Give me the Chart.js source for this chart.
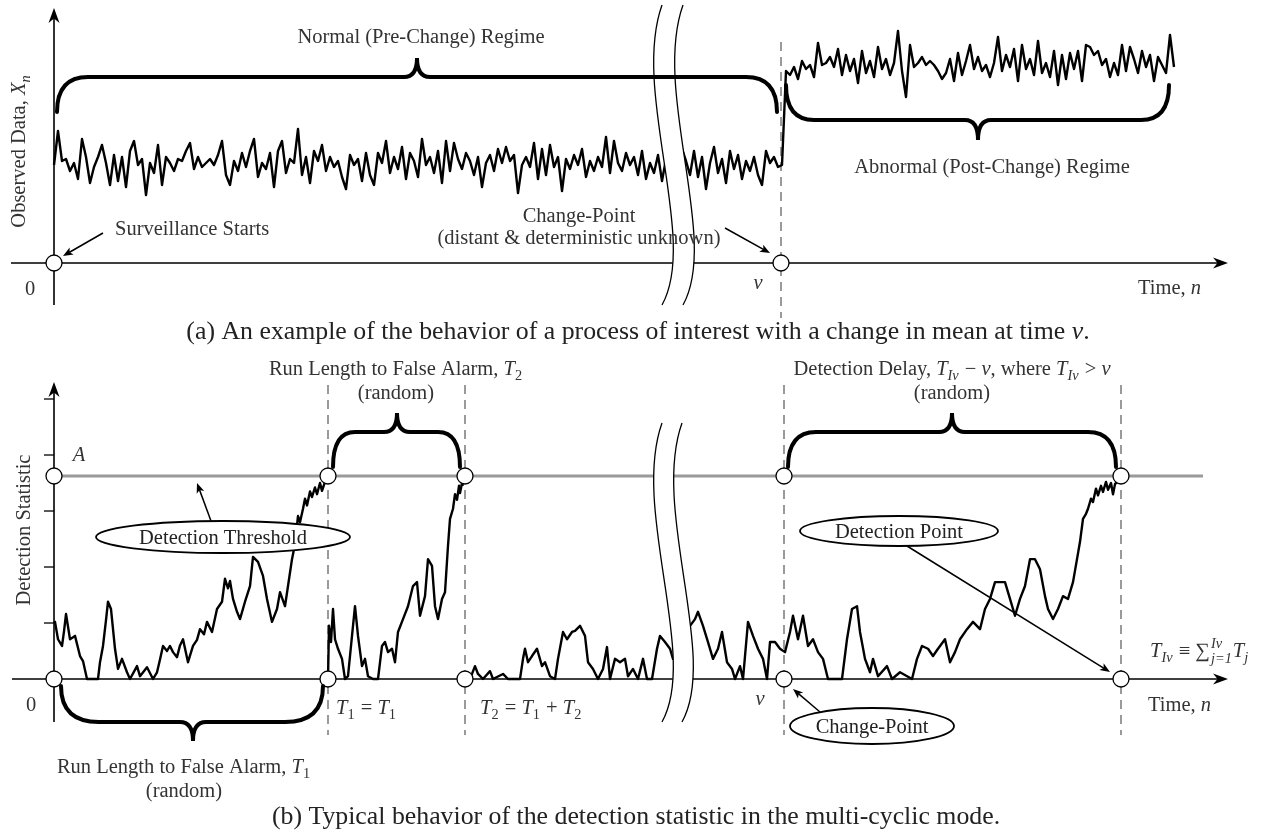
<!DOCTYPE html>
<html>
<head>
<meta charset="utf-8">
<title>Observed data and detection statistic in the multi-cyclic mode</title>
<script src="https://cdn.jsdelivr.net/npm/chart.js@4.4.1/dist/chart.umd.min.js"></script>
<style>
  html, body { margin: 0; padding: 0; background: #fff; }
  #wrap { position: relative; width: 1276px; height: 832px; }
</style>
</head>
<body>
<div id="wrap"><canvas id="grafico"></canvas></div>
<script>
// ---- data ----

// panel (a): observed data X_n, one sample every STEP time units
const STEP = 4;
const observedPre = [
  4.9,6.6,5.1,5.2,4.6,5.0,4.2,6.2,5.3,4.0,
  4.8,5.3,5.9,5.0,3.9,5.4,4.1,5.3,3.8,5.6,
  6.1,4.9,5.2,3.4,5.0,4.5,5.9,3.9,5.3,5.0,
  4.6,5.2,5.1,5.6,6.0,4.7,5.3,4.8,5.0,5.2,
  4.9,5.4,6.1,4.4,3.9,5.1,4.6,5.5,4.8,5.6,
  6.2,4.3,5.0,4.7,5.5,3.8,5.6,6.1,4.5,5.2,
  5.0,6.7,4.4,5.3,4.0,5.6,5.1,5.9,4.6,5.3,
  4.8,5.1,4.3,3.7,5.4,4.9,5.2,4.1,5.5,4.4,
  3.9,5.5,5.0,6.1,4.5,5.3,4.7,5.8,4.2,5.5,
  5.1,4.3,6.2,4.9,5.3,4.5,5.6,4.0,6.1,4.6,
  6.0,5.2,4.7,5.5,5.1,4.4,5.3,3.8,5.0,5.4,
  4.6,5.7,5.0,5.8,5.1,5.4,3.5,4.9,5.3,4.8,
  6.0,4.2,5.7,4.4,5.9,4.8,5.3,3.6,5.2,4.7,
  5.4,4.9,5.7,4.3,5.1,4.6,5.3,4.8,6.3,4.5,
  6.1,5.0,4.6,5.5,4.9,5.3,4.4,5.6,4.2,5.0,
  4.5,5.4,4.1,5.2,4.8,5.5,4.9,5.7,5.1,4.4,
  5.6,4.3,5.3,3.7,5.0,5.8,4.5,5.2,4.0,5.6,
  4.7,5.4,4.2,5.1,4.6,5.3,4.4,3.9,5.6,5.0,
  5.3,4.8,4.9
];
const observedPost = [
  9.6,9.4,9.8,9.2,10.1,9.7,9.9,9.3,11.0,9.9,
  10.0,10.3,9.8,10.7,9.4,10.4,9.6,10.2,9.0,10.6,
  9.5,10.1,9.3,10.8,9.7,10.2,9.4,10.0,11.6,9.6,
  8.3,10.9,9.8,10.0,10.3,9.9,10.1,9.9,9.6,9.2,
  9.5,10.2,9.1,10.5,9.4,10.1,10.9,9.7,10.3,9.6,
  9.9,9.3,10.0,11.3,9.6,10.4,9.8,10.7,9.1,10.9,
  9.7,10.2,9.4,11.1,9.5,10.0,9.3,10.6,8.9,10.4,
  9.2,10.5,9.7,10.6,9.1,10.9,10.8,10.4,10.6,9.9,
  10.2,9.3,10.0,9.4,10.9,9.6,10.8,10.2,9.5,10.6,
  9.8,10.4,9.1,10.3,9.9,9.5,11.4,9.8
];

// panel (b): detection statistic, cycle by cycle (time, value)
const cyc1Time = [0,1,4,8,10,12,16,21,26,29,33,44,46,49,52,54,57,61,64,68,
  73,76,83,86,93,99,103,106,109,113,116,119,123,126,129,134,139,143,146,150,
  153,158,163,168,171,174,176,179,183,186,191,196,199,204,209,213,218,223,226,231,
  234,238,241,244,246,249,251,253,256,258,261,263,266,268,271];
const cyc1Stat = [1.0,1.02,0.71,0.59,0.85,1.16,0.71,0.77,0.41,0.32,0,0,0.30,0.59,1.05,1.38,1.25,0.54,0.18,0.36,
  0.12,0,0.23,0.05,0.21,0,0.12,0.35,0.59,0.50,0.59,0.48,0.39,0.60,0.71,0.30,0.59,0.70,0.89,0.80,
  1.02,0.84,1.25,1.38,1.79,1.62,1.75,1.43,1.20,1.07,1.38,1.66,2.18,2.09,1.84,1.43,1.02,1.25,1.55,1.30,
  1.66,2.14,2.41,2.91,2.80,3.04,3.22,3.10,3.35,3.25,3.42,3.30,3.50,3.36,3.52];

const cyc2Time = [274,275,277,279,281,284,288,291,294,298,301,304,308,311,314,319,324,328,331,334,
  338,341,344,349,354,359,363,366,371,374,378,381,384,388,391,394,396,399,401,403,405,406,408,409];
const cyc2Stat = [0,0.95,0.66,1.25,0.71,0.54,0.36,0,0.05,0.77,1.30,0.77,0.23,0.36,0.05,0,0,0.59,0.66,0.48,
  0.54,0.30,0.84,1.07,1.30,1.66,1.73,1.13,1.48,2.14,2.02,1.30,1.07,1.43,1.55,2.38,2.86,3.04,3.30,3.20,3.45,3.32,3.50,3.45];

const cyc3Time = [411,416,421,424,429,436,439,449,454,466,469,471,474,478,483,488,491,496,501,504,
  509,513,518,521,526,531,534,539,544,549,553,556,561,566,571,574,579,584,589,593,
  598,603,606,611,616,619,626,634,641,644,649,654,659,664,668,673,678,681,686,689,
  694,699,704,709,713,716,721,726,731,736,739,744,749,754,759,764,769,774,788,793,
  798,803,806,811,816,819,824,833,838,846,858,863,868,874,879,884,891,896,901,906,
  913,919,926,931,936,941,946,951,956,961,966,971,976,981,986,991,994,999,1004,1009,
  1014,1019,1023,1026,1029,1032,1034,1037,1039,1042,1044,1047,1049,1052,1054,1057,1059,1061,1063];
const cyc3Stat = [0,0,0.23,0.09,0,0.14,0,0.09,0,0,0.36,0.54,0.30,0.41,0.54,0.23,0.30,0.05,0,0.36,
  0.84,0.71,0.84,0.86,0.95,0.77,0.30,0.18,0,0.18,0.57,0,0.36,0.30,0.36,0.05,0.18,0,0.36,0,
  0,0.54,0.77,0.66,0.54,0.36,0.70,0.90,1.07,1.20,0.95,0.66,0.36,0.54,0.84,0.30,0.18,0,0.23,0,
  1.02,0.77,0.54,0.36,0,0.66,0.66,0.54,0.48,0.84,1.13,0.71,1.13,0.59,0.71,0.48,0.36,0,0,0.71,
  1.25,1.30,0.84,0.36,0.12,0.36,0.05,0.23,0,0.12,0,0.36,0.59,0.54,0.41,0.54,0.71,0.30,0.48,0.71,
  0.89,1.02,0.89,1.25,1.43,1.73,1.73,1.73,1.43,1.13,1.43,1.66,2.14,2.14,1.96,1.48,1.25,1.07,1.25,1.48,
  1.43,1.73,2.14,2.45,2.86,2.95,3.04,3.22,3.16,3.40,3.28,3.45,3.34,3.52,3.38,3.50,3.30,3.48,3.52];

// key times and levels
const THRESHOLD = 3.625;                    // A
const THRESHOLD_END = 1149;                 // where the grey threshold line stops
const marksTop = [0, 727];                  // surveillance start, change-point nu
const marksBottom = [0, 274, 411, 730, 1067]; // 0, T1, T1+T2, nu, detection
const yTicksB = [1, 2, 3, 4, 5];
const BREAK_AT = 608;                        // "distant" change-point cut

// ---- drawing helpers ----
const FONT = '"Liberation Serif", "Times New Roman", serif';
const INK = '#333';
const TXT = 20.5;

function fontOf(size, italic) {
  return (italic ? 'italic ' : '') + size + 'px ' + FONT;
}

// rich text: items are strings or {t, i, sub, sup, lim:[up, down]}
function itemWidth(ctx, it, size) {
  if (typeof it === 'string') { ctx.font = fontOf(size); return ctx.measureText(it).width; }
  if (it.lim) {
    ctx.font = fontOf(size * 0.7, true);
    return Math.max(ctx.measureText(it.lim[0]).width, ctx.measureText(it.lim[1]).width) + 2;
  }
  const s = (it.sub || it.sup) ? size * 0.7 : size;
  ctx.font = fontOf(s, it.i);
  return ctx.measureText(it.t).width + (it.sub ? 1 : 0);
}

function drawRich(ctx, items, x, y, align, size) {
  size = size || TXT;
  const total = items.reduce((w, it) => w + itemWidth(ctx, it, size), 0);
  let cx = align === 'center' ? x - total / 2 : (align === 'right' ? x - total : x);
  ctx.textAlign = 'left';
  ctx.textBaseline = 'alphabetic';
  items.forEach(it => {
    const w = itemWidth(ctx, it, size);
    if (typeof it === 'string') {
      ctx.font = fontOf(size);
      ctx.fillText(it, cx, y);
    } else if (it.lim) {
      ctx.font = fontOf(size * 0.7, true);
      ctx.fillText(it.lim[0], cx + 1, y - size * 0.42);
      ctx.fillText(it.lim[1], cx + 1, y + size * 0.28);
    } else {
      const s = (it.sub || it.sup) ? size * 0.7 : size;
      ctx.font = fontOf(s, it.i);
      ctx.fillText(it.t, cx, y + (it.sub ? size * 0.22 : (it.sup ? -size * 0.4 : 0)));
    }
    cx += w;
  });
}

function head(ctx, x1, y1, x2, y2, len, half, notch) {
  const a = Math.atan2(y2 - y1, x2 - x1);
  ctx.save();
  ctx.translate(x2, y2);
  ctx.rotate(a);
  ctx.beginPath();
  ctx.moveTo(0, 0);
  ctx.lineTo(-len, -half);
  ctx.lineTo(-len * notch, 0);
  ctx.lineTo(-len, half);
  ctx.closePath();
  ctx.fill();
  ctx.restore();
}

function arrow(ctx, x1, y1, x2, y2) {
  const a = Math.atan2(y2 - y1, x2 - x1);
  ctx.lineWidth = 1.5;
  ctx.beginPath();
  ctx.moveTo(x1, y1);
  ctx.lineTo(x2 - 6 * Math.cos(a), y2 - 6 * Math.sin(a));
  ctx.stroke();
  head(ctx, x1, y1, x2, y2, 10, 4, 0.75);
}

function brace(ctx, x1, x2, yEnd, yLine, xTip, yTip, r) {
  const rt = 13;
  ctx.lineWidth = 4;
  ctx.lineCap = 'round';
  ctx.beginPath();
  ctx.moveTo(x1, yEnd);
  ctx.quadraticCurveTo(x1, yLine, x1 + r, yLine);
  ctx.lineTo(xTip - rt, yLine);
  ctx.quadraticCurveTo(xTip, yLine, xTip, yTip);
  ctx.quadraticCurveTo(xTip, yLine, xTip + rt, yLine);
  ctx.lineTo(x2 - r, yLine);
  ctx.quadraticCurveTo(x2, yLine, x2, yEnd);
  ctx.stroke();
  ctx.lineCap = 'butt';
}

function breakMark(ctx, x0, yTop, yBot, gap) {
  const H = yBot - yTop;
  const c1x = x0 - 31, c1y = yTop + 0.29 * H;
  const c2x = x0 + 37, c2y = yTop + 0.78 * H;
  ctx.beginPath();
  ctx.moveTo(x0, yTop);
  ctx.bezierCurveTo(c1x, c1y, c2x, c2y, x0, yBot);
  ctx.lineTo(x0 + gap, yBot);
  ctx.bezierCurveTo(c2x + gap, c2y, c1x + gap, c1y, x0 + gap, yTop);
  ctx.closePath();
  ctx.fillStyle = '#fff';
  ctx.fill();
  ctx.strokeStyle = '#000';
  ctx.lineWidth = 1.3;
  [0, gap].forEach(d => {
    ctx.beginPath();
    ctx.moveTo(x0 + d, yTop);
    ctx.bezierCurveTo(c1x + d, c1y, c2x + d, c2y, x0 + d, yBot);
    ctx.stroke();
  });
}

function bubble(ctx, cx, cy, rx, ry, text) {
  ctx.beginPath();
  ctx.ellipse(cx, cy, rx, ry, 0, 0, 2 * Math.PI);
  ctx.fillStyle = '#fff';
  ctx.fill();
  ctx.lineWidth = 1.8;
  ctx.strokeStyle = '#000';
  ctx.stroke();
  ctx.fillStyle = '#222';
  drawRich(ctx, [text], cx, cy + 7, 'center');
}

// ---- axes, guides and annotations ----
const decor = {
  id: 'decor',
  beforeDatasetsDraw(chart) {
    const { ctx, scales: { x, yA, yB } } = chart;
    const x0 = x.getPixelForValue(0);
    const a0 = yA.getPixelForValue(0);
    const b0 = yB.getPixelForValue(0);
    ctx.save();
    ctx.strokeStyle = '#000';
    ctx.fillStyle = '#000';
    ctx.lineWidth = 1.6;
    // panel (a) axes
    ctx.beginPath();
    ctx.moveTo(x0, a0 + 42); ctx.lineTo(x0, 14);
    ctx.moveTo(11, a0); ctx.lineTo(1220, a0);
    ctx.stroke();
    head(ctx, x0, 100, x0, 8, 15, 5.5, 0.7);
    head(ctx, 1000, a0, 1228, a0, 15, 5.5, 0.7);
    // panel (b) axes
    ctx.beginPath();
    ctx.moveTo(x0, b0 + 43); ctx.lineTo(x0, 388);
    ctx.moveTo(12, b0); ctx.lineTo(1220, b0);
    ctx.stroke();
    head(ctx, x0, 500, x0, 382, 15, 5.5, 0.7);
    head(ctx, 1000, b0, 1228, b0, 15, 5.5, 0.7);
    ctx.lineWidth = 1.3;
    yTicksB.forEach(t => {
      const ty = yB.getPixelForValue(t);
      ctx.beginPath(); ctx.moveTo(x0 - 10, ty); ctx.lineTo(x0, ty); ctx.stroke();
    });
    // dashed guides
    ctx.strokeStyle = '#9a9a9a';
    ctx.lineWidth = 2;
    ctx.setLineDash([9, 6]);
    const nuA = x.getPixelForValue(marksTop[1]);
    ctx.beginPath(); ctx.moveTo(nuA, 42); ctx.lineTo(nuA, 318); ctx.stroke();
    marksBottom.slice(1).forEach(t => {
      const gx = x.getPixelForValue(t);
      ctx.beginPath(); ctx.moveTo(gx, 385); ctx.lineTo(gx, 735); ctx.stroke();
    });
    ctx.restore();
  },
  afterDatasetsDraw(chart) {
    const { ctx, scales: { x } } = chart;
    const px = v => x.getPixelForValue(v);
    ctx.save();
    // axis breaks
    breakMark(ctx, px(BREAK_AT), 5, 305, 21);
    breakMark(ctx, px(BREAK_AT), 423, 722, 20);

    // braces
    ctx.strokeStyle = '#000';
    brace(ctx, px(3), px(723), 112, 77, px(363), 58, 31);
    brace(ctx, px(732), px(1115), 85, 120, px(924), 140, 28);
    brace(ctx, px(279), px(406), 467, 432, px(343), 413, 22);
    brace(ctx, px(734), px(1062), 467, 432, px(898), 413, 28);
    brace(ctx, px(7), px(269), 686, 722, px(139), 741, 38);

    // arrows
    ctx.strokeStyle = '#000';
    ctx.fillStyle = '#000';
    arrow(ctx, 103, 233, 63, 256);
    arrow(ctx, 725, 228, 770, 253);
    arrow(ctx, 211, 521, 197, 483);
    arrow(ctx, 907, 546, 1110, 672);
    arrow(ctx, 820, 712, 793, 689);

    // bubbles
    bubble(ctx, 223, 537, 127, 16, 'Detection Threshold');
    bubble(ctx, 899, 531, 99, 15, 'Detection Point');
    bubble(ctx, 872, 726, 82, 18, 'Change-Point');

    // panel (a) texts
    ctx.fillStyle = INK;
    drawRich(ctx, ['Normal (Pre-Change) Regime'], 421, 43, 'center');
    drawRich(ctx, ['Abnormal (Post-Change) Regime'], 992, 173, 'center');
    drawRich(ctx, ['Surveillance Starts'], 115, 235, 'left');
    drawRich(ctx, ['Change-Point'], 579, 222, 'center');
    drawRich(ctx, ['(distant & deterministic unknown)'], 579, 244, 'center');
    drawRich(ctx, ['0'], 30, 295, 'center');
    drawRich(ctx, [{ t: 'ν', i: 1 }], 758, 289, 'center');
    drawRich(ctx, ['Time, ', { t: 'n', i: 1 }], 1138, 294, 'left');
    ctx.save();
    ctx.translate(18, 151);
    ctx.rotate(-Math.PI / 2);
    drawRich(ctx, ['Observed Data, ', { t: 'X', i: 1 }, { t: 'n', i: 1, sub: 1 }], 0, 7, 'center');
    ctx.restore();
    ctx.fillStyle = '#222';
    drawRich(ctx, ['(a) An example of the behavior of a process of interest with a change in mean at time ',
      { t: 'ν', i: 1 }, '.'], 638, 339, 'center', 25.8);

    // panel (b) texts
    ctx.fillStyle = INK;
    drawRich(ctx, ['Run Length to False Alarm, ', { t: 'T', i: 1 }, { t: '2', sub: 1 }], 396, 375, 'center');
    drawRich(ctx, ['(random)'], 396, 399, 'center');
    drawRich(ctx, ['Detection Delay, ', { t: 'T', i: 1 }, { t: 'Iν', i: 1, sub: 1 }, ' − ', { t: 'ν', i: 1 },
      ', where ', { t: 'T', i: 1 }, { t: 'Iν', i: 1, sub: 1 }, ' > ', { t: 'ν', i: 1 }], 952, 375, 'center');
    drawRich(ctx, ['(random)'], 952, 399, 'center');
    drawRich(ctx, [{ t: 'A', i: 1 }], 79, 461, 'center');
    drawRich(ctx, [{ t: 'T', i: 1 }, { t: 'Iν', i: 1, sub: 1 }, ' ≡ ∑', { lim: ['Iν', 'j=1'] },
      { t: 'T', i: 1 }, { t: 'j', i: 1, sub: 1 }], 1150, 657, 'left');
    drawRich(ctx, ['0'], 31, 711, 'center');
    drawRich(ctx, [{ t: 'T', i: 1 }, { t: '1', sub: 1 }, ' = ', { t: 'T', i: 1 }, { t: '1', sub: 1 }], 336, 714, 'left');
    drawRich(ctx, [{ t: 'T', i: 1 }, { t: '2', sub: 1 }, ' = ', { t: 'T', i: 1 }, { t: '1', sub: 1 }, ' + ',
      { t: 'T', i: 1 }, { t: '2', sub: 1 }], 480, 714, 'left');
    drawRich(ctx, [{ t: 'ν', i: 1 }], 760, 705, 'center');
    drawRich(ctx, ['Time, ', { t: 'n', i: 1 }], 1148, 711, 'left');
    drawRich(ctx, ['Run Length to False Alarm, ', { t: 'T', i: 1 }, { t: '1', sub: 1 }], 184, 773, 'center');
    drawRich(ctx, ['(random)'], 184, 797, 'center');
    ctx.save();
    ctx.translate(23, 530);
    ctx.rotate(-Math.PI / 2);
    drawRich(ctx, ['Detection Statistic'], 0, 7, 'center');
    ctx.restore();
    ctx.fillStyle = '#222';
    drawRich(ctx, ['(b) Typical behavior of the detection statistic in the multi-cyclic mode.'], 636, 824, 'center', 25.8);
    ctx.restore();
  }
};

// ---- datasets ----
const pares = (ts, vs) => ts.map((t, i) => ({ x: t, y: vs[i] }));
const observed = observedPre.concat(observedPost).map((v, i) => ({ x: i * STEP, y: v }));

const serie = (data, axis) => ({
  data: data, yAxisID: axis, borderColor: '#000', borderWidth: 2.4,
  borderJoinStyle: 'round', pointRadius: 0, tension: 0, order: 1
});

const marcas = (ts, levels, axis) => ({
  data: ts.flatMap(t => levels.map(l => ({ x: t, y: l }))),
  yAxisID: axis, showLine: false, pointRadius: 8, pointHoverRadius: 8,
  pointBackgroundColor: '#fff', pointBorderColor: '#000', pointBorderWidth: 1.3, order: 0
});

new Chart(document.getElementById('grafico'), {
  type: 'line',
  data: {
    datasets: [
      serie(observed, 'yA'),
      serie(pares(cyc1Time, cyc1Stat), 'yB'),
      serie(pares(cyc2Time, cyc2Stat), 'yB'),
      serie(pares(cyc3Time, cyc3Stat), 'yB'),
      { data: [{ x: 0, y: THRESHOLD }, { x: THRESHOLD_END, y: THRESHOLD }], yAxisID: 'yB',
        borderColor: '#9a9a9a', borderWidth: 3, pointRadius: 0, order: 2 },
      marcas(marksTop, [0], 'yA'),
      marcas(marksBottom, [0, THRESHOLD], 'yB')
    ]
  },
  options: {
    responsive: true,
    maintainAspectRatio: false,
    animation: false,
    devicePixelRatio: 1,
    events: [],
    layout: { padding: 0, autoPadding: false },
    plugins: { legend: { display: false }, tooltip: { enabled: false }, title: { display: false } },
    scales: {
      x: { type: 'linear', min: -54, max: 1222, display: false },
      yA: { type: 'linear', min: -28.45, max: 13.15, display: false },
      yB: { type: 'linear', min: -2.732, max: 12.125, display: false }
    }
  },
  plugins: [decor]
});
</script>
</body>
</html>
